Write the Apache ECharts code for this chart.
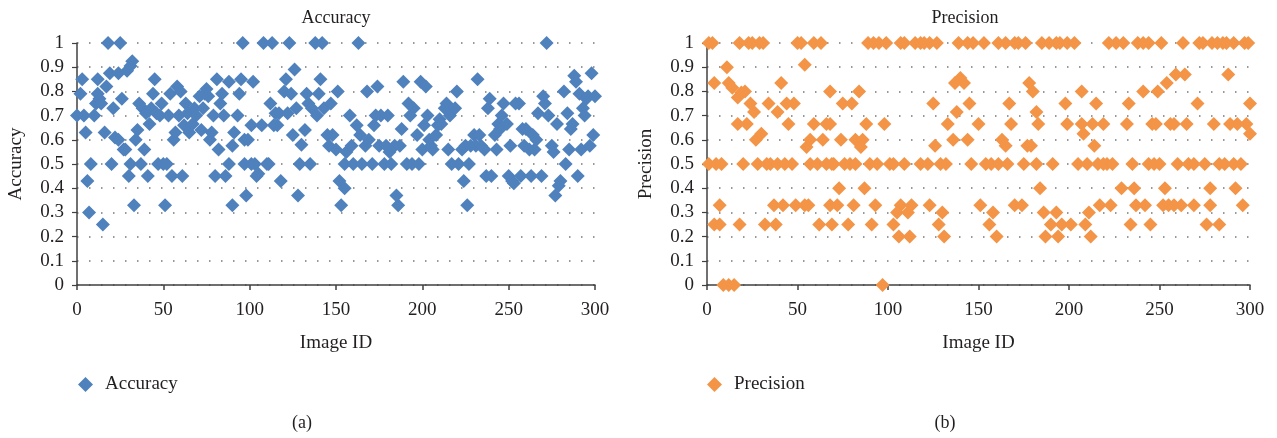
<!DOCTYPE html>
<html>
<head>
<meta charset="utf-8">
<script src="https://cdn.jsdelivr.net/npm/echarts@6/dist/echarts.min.js"></script>
<style>
  html, body { margin: 0; padding: 0; background: #fff; }
  #chart { width: 1277px; height: 438px; }
</style>
</head>
<body>
<div id="chart"></div>
<script>
// [image id, value] pairs
const accuracyPoints = [
  [0,0.70],[2,0.79],[3,0.85],[4,0.70],[5,0.63],[6,0.43],[7,0.30],[8,0.50],[10,0.70],[11,0.75],
  [12,0.85],[12,0.79],[13,0.77],[14,0.75],[15,0.25],[16,0.63],[17,0.82],[18,1],[19,0.875],[20,0.5],
  [21,0.73],[22,0.61],[24,0.60],[25,1],[24,0.875],[26,0.77],[27,0.56],[28,0.56],[29,0.885],[30,0.45],
  [31,0.5],[31,0.905],[32,0.925],[33,0.33],[34,0.60],[35,0.64],[36,0.75],[37,0.5],[38,0.73],[39,0.56],
  [40,0.71],[41,0.45],[42,0.665],[43,0.73],[44,0.79],[45,0.85],[46,0.71],[47,0.5],[48,0.70],[49,0.75],
  [50,0.5],[51,0.33],[52,0.5],[53,0.70],[54,0.79],[55,0.45],[56,0.60],[57,0.63],[58,0.82],[59,0.70],
  [60,0.80],[61,0.45],[62,0.66],[63,0.75],[64,0.71],[65,0.63],[67,0.665],[68,0.73],[69,0.70],[71,0.78],
  [72,0.64],[73,0.73],[74,0.79],[75,0.81],[76,0.78],[77,0.60],[78,0.63],[79,0.70],[80,0.45],[81,0.85],
  [82,0.56],[83,0.75],[84,0.79],[85,0.70],[86,0.45],[88,0.84],[88,0.5],[90,0.575],[90,0.33],[91,0.63],
  [93,0.70],[94,0.79],[95,0.85],[96,1],[97,0.5],[97,0.60],[98,0.37],[99,0.60],[101,0.5],[102,0.84],
  [101,0.66],[103,0.5],[104,0.45],[105,0.46],[107,0.66],[108,1],[110,0.5],[111,0.5],[112,0.75],[113,1],
  [114,0.66],[115,0.71],[116,0.66],[117,0.71],[118,0.43],[120,0.80],[121,0.85],[122,0.71],[123,1],[124,0.79],
  [125,0.62],[126,0.89],[127,0.73],[128,0.37],[129,0.5],[130,0.58],[132,0.64],[133,0.79],[134,0.75],[135,0.5],
  [136,0.73],[138,1],[139,0.70],[140,0.79],[141,0.85],[142,1],[143,0.73],[145,0.62],[146,0.575],[147,0.75],
  [148,0.62],[150,0.56],[151,0.80],[152,0.43],[153,0.33],[155,0.5],[155,0.40],[156,0.55],[158,0.70],[159,0.575],
  [160,0.5],[162,0.66],[163,1],[164,0.62],[165,0.5],[167,0.575],[168,0.80],[169,0.60],[171,0.5],[172,0.66],
  [173,0.70],[174,0.82],[175,0.575],[176,0.70],[178,0.5],[179,0.575],[180,0.70],[181,0.55],[182,0.5],[184,0.575],
  [185,0.37],[186,0.33],[187,0.575],[188,0.645],[189,0.84],[191,0.5],[192,0.75],[193,0.70],[194,0.5],[195,0.73],
  [197,0.62],[198,0.5],[199,0.84],[200,0.56],[201,0.66],[202,0.82],[203,0.70],[204,0.60],[205,0.575],[206,0.56],
  [208,0.62],[209,0.66],[210,0.685],[211,0.665],[213,0.73],[214,0.75],[215,0.56],[216,0.70],[217,0.5],[219,0.73],
  [220,0.80],[221,0.5],[223,0.56],[224,0.43],[225,0.575],[226,0.33],[227,0.5],[228,0.575],[230,0.62],[231,0.575],
  [232,0.85],[233,0.62],[234,0.575],[236,0.56],[237,0.45],[238,0.73],[239,0.77],[240,0.45],[242,0.62],[243,0.56],
  [244,0.665],[245,0.645],[246,0.70],[247,0.75],[249,0.665],[250,0.45],[251,0.575],[252,0.43],[253,0.42],[254,0.75],
  [256,0.75],[257,0.45],[258,0.645],[259,0.575],[260,0.645],[262,0.56],[263,0.45],[264,0.62],[265,0.56],[266,0.60],
  [267,0.71],[269,0.45],[270,0.78],[271,0.75],[272,1],[273,0.70],[275,0.575],[276,0.55],[277,0.37],[278,0.665],
  [279,0.41],[280,0.43],[282,0.80],[283,0.5],[284,0.71],[285,0.56],[286,0.645],[287,0.665],[288,0.865],[289,0.84],
  [290,0.45],[291,0.79],[292,0.56],[293,0.73],[294,0.70],[295,0.77],[296,0.78],[297,0.575],[298,0.875],[299,0.62],
  [300,0.78]
]

const precisionPoints = [
  [1,1],[3,1],[4,0.835],[1,0.5],[5,0.5],[8,0.5],[4,0.25],[7,0.25],[7,0.33],[9,0],
  [12,0],[15,0],[11,0.9],[12,0.835],[14,0.815],[17,0.775],[19,0.795],[21,0.8],[17,0.665],[22,0.665],
  [18,1],[23,1],[25,1],[29,1],[31,1],[18,0.25],[20,0.5],[24,0.75],[26,0.715],[27,0.6],
  [30,0.625],[28,0.5],[32,0.25],[33,0.5],[34,0.75],[35,0.5],[37,0.33],[38,0.25],[39,0.715],[41,0.835],
  [42,0.33],[39,0.5],[43,0.5],[44,0.75],[45,0.665],[47,0.5],[48,0.75],[49,0.33],[50,1],[52,1],
  [54,0.91],[54,0.33],[56,0.33],[55,0.57],[57,0.6],[57,0.5],[59,1],[63,1],[59,0.665],[62,0.25],
  [61,0.5],[64,0.6],[66,0.5],[66,0.665],[68,0.665],[68,0.8],[68,0.33],[69,0.5],[69,0.25],
  [89,1],[92,1],[95,1],[99,1],[107,1],[109,1],[115,1],[118,1],[120,1],[123,1],[127,1],[139,1],[144,1],[147,1],
  [84,0.8],[75,0.75],[80,0.75],[88,0.665],[98,0.665],[74,0.6],[82,0.6],[86,0.6],[85,0.57],
  [70,0.5],[76,0.5],[79,0.5],[82,0.5],[90,0.5],[94,0.5],[101,0.5],[103,0.5],[109,0.5],[118,0.5],[122,0.5],[129,0.5],[132,0.5],
  [73,0.4],[87,0.4],
  [72,0.33],[81,0.33],[93,0.33],[107,0.33],[113,0.33],[123,0.33],
  [105,0.3],[111,0.3],[130,0.3],
  [78,0.25],[91,0.25],[103,0.25],[128,0.25],
  [106,0.2],[112,0.2],[131,0.2],
  [97,0],
  [125,0.75],[138,0.715],[133,0.665],[136,0.6],[144,0.6],[126,0.575],[137,0.835],[140,0.855],[142,0.835],[145,0.75],[146,0.5],
  [153,1],[161,1],[165,1],[170,1],[172,1],[176,1],[185,1],[189,1],[193,1],[195,1],[199,1],[203,1],[222,1],
  [178,0.835],[180,0.8],[207,0.8],
  [167,0.75],[198,0.75],[215,0.75],[182,0.715],
  [150,0.665],[168,0.665],[183,0.665],[199,0.665],[207,0.665],[213,0.665],[219,0.665],
  [208,0.625],[163,0.6],[165,0.575],[177,0.575],[179,0.575],[214,0.575],
  [154,0.5],[157,0.5],[161,0.5],[166,0.5],[175,0.5],[182,0.5],[191,0.5],[205,0.5],[210,0.5],[216,0.5],[219,0.5],[221,0.5],[224,0.5],
  [184,0.4],
  [151,0.33],[170,0.33],[174,0.33],[217,0.33],[223,0.33],
  [158,0.3],[186,0.3],[193,0.3],[211,0.3],
  [156,0.25],[190,0.25],[196,0.25],[201,0.25],[209,0.25],
  [160,0.2],[187,0.2],[194,0.2],[212,0.2],
  [226,1],[230,1],[238,1],[241,1],[244,1],[251,1],[263,1],[272,1],[274,1],[279,1],[282,1],[285,1],[287,1],[291,1],[297,1],[299,1],
  [259,0.87],[264,0.87],[288,0.87],[254,0.835],[241,0.8],[249,0.8],
  [233,0.75],[271,0.75],[300,0.75],
  [232,0.665],[246,0.665],[248,0.665],[256,0.665],[258,0.665],[265,0.665],[280,0.665],[289,0.665],[293,0.665],[298,0.665],
  [300,0.625],
  [235,0.5],[244,0.5],[247,0.5],[250,0.5],[260,0.5],[266,0.5],[269,0.5],[275,0.5],[283,0.5],[286,0.5],[291,0.5],[295,0.5],
  [229,0.4],[236,0.4],[253,0.4],[278,0.4],[292,0.4],
  [237,0.33],[242,0.33],[252,0.33],[255,0.33],[258,0.33],[262,0.33],[269,0.33],[278,0.33],[296,0.33],
  [234,0.25],[245,0.25],[276,0.25],[283,0.25]
]

const seriesNames = ['Accuracy', 'Precision']
const seriesColors = ['#4F81BD', '#F39447']
const panelLabels = ['(a)', '(b)']

const font = "'Liberation Serif', 'DejaVu Serif', serif"
const textColor = '#231f20'

function xAxisFor(gridIndex) {
  return {
    gridIndex,
    type: 'value',
    min: 0,
    max: 300,
    interval: 50,
    name: 'Image ID',
    nameLocation: 'middle',
    nameGap: 49,
    nameTextStyle: { fontFamily: font, fontSize: 19, color: textColor },
    axisLine: { lineStyle: { color: '#404040', width: 1.5 } },
    axisTick: { show: true, length: 5, lineStyle: { color: '#404040', width: 1.5 } },
    axisLabel: { margin: 16, fontFamily: font, fontSize: 19, color: textColor },
    splitLine: { show: false }
  }
}

function yAxisFor(gridIndex, name) {
  return {
    gridIndex,
    type: 'value',
    min: 0,
    max: 1,
    interval: 0.1,
    name,
    nameLocation: 'middle',
    nameGap: 51,
    nameTextStyle: { fontFamily: font, fontSize: 19, color: textColor },
    axisLine: { show: true, lineStyle: { color: '#404040', width: 1.5 } },
    axisTick: { show: true, length: 5, lineStyle: { color: '#404040', width: 1.2 } },
    axisLabel: { margin: 13, fontFamily: font, fontSize: 19, color: textColor },
    splitLine: {
      show: true,
      lineStyle: { color: '#777', width: 1.5, type: [1.5, 10.5] }
    }
  }
}

const chart = echarts.init(document.getElementById('chart'))

chart.setOption({
  animation: false,
  grid: [
    { left: 77, right: 682, top: 43, bottom: 153 },
    { left: 707, right: 27, top: 43, bottom: 153 }
  ],
  xAxis: [xAxisFor(0), xAxisFor(1)],
  yAxis: [yAxisFor(0, seriesNames[0]), yAxisFor(1, seriesNames[1])],
  legend: [
    {
      data: [seriesNames[0]], left: 73, top: 370, icon: 'diamond',
      itemWidth: 15, itemHeight: 15,
      textStyle: { fontFamily: font, fontSize: 19, color: textColor, padding: [0, 0, 0, 7] }
    },
    {
      data: [seriesNames[1]], left: 702, top: 370, icon: 'diamond',
      itemWidth: 15, itemHeight: 15,
      textStyle: { fontFamily: font, fontSize: 19, color: textColor, padding: [0, 0, 0, 7] }
    }
  ],
  graphic: [
    { type: 'text', x: 336, y: 18, style: { text: seriesNames[0], font: '18px ' + font, fill: textColor, textAlign: 'center', textVerticalAlign: 'middle' } },
    { type: 'text', x: 965, y: 18, style: { text: seriesNames[1], font: '18px ' + font, fill: textColor, textAlign: 'center', textVerticalAlign: 'middle' } },
    { type: 'text', x: 302, y: 423, style: { text: panelLabels[0], font: '18px ' + font, fill: textColor, textAlign: 'center', textVerticalAlign: 'middle' } },
    { type: 'text', x: 945, y: 423, style: { text: panelLabels[1], font: '18px ' + font, fill: textColor, textAlign: 'center', textVerticalAlign: 'middle' } }
  ],
  series: [
    {
      name: seriesNames[0],
      type: 'scatter',
      xAxisIndex: 0,
      yAxisIndex: 0,
      symbol: 'diamond',
      symbolSize: 14,
      clip: false,
      itemStyle: { color: seriesColors[0], opacity: 1 },
      data: accuracyPoints
    },
    {
      name: seriesNames[1],
      type: 'scatter',
      xAxisIndex: 1,
      yAxisIndex: 1,
      symbol: 'diamond',
      symbolSize: 14,
      clip: false,
      itemStyle: { color: seriesColors[1], opacity: 1 },
      data: precisionPoints
    }
  ]
})
</script>
</body>
</html>
